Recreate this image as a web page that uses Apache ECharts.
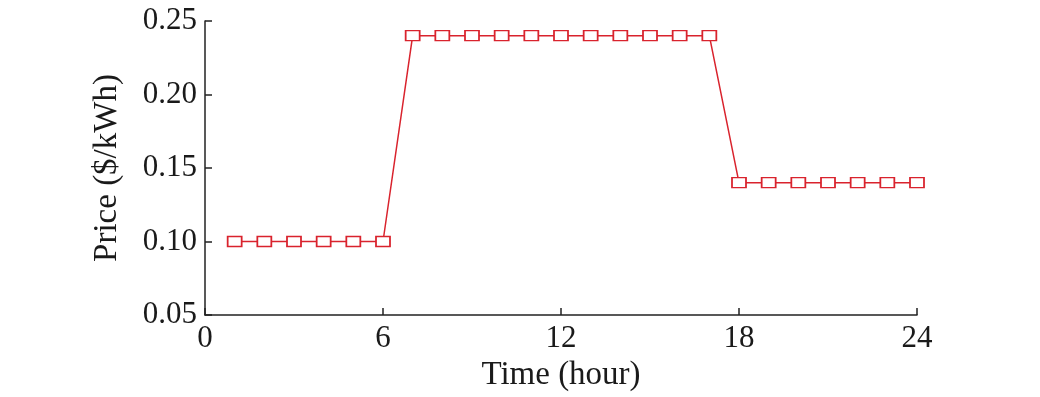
<!DOCTYPE html>
<html><head><meta charset="utf-8">
<script src="https://cdn.jsdelivr.net/npm/echarts@6/dist/echarts.min.js"></script>
<style>html,body{margin:0;padding:0;background:#fff}#c{width:1040px;height:397px}</style>
</head><body><div id="c"></div>
<script>
const hours = [1,2,3,4,5,6,7,8,9,10,11,12,13,14,15,16,17,18,19,20,21,22,23,24];
const price = [0.10,0.10,0.10,0.10,0.10,0.10,0.24,0.24,0.24,0.24,0.24,0.24,0.24,0.24,0.24,0.24,0.24,0.14,0.14,0.14,0.14,0.14,0.14,0.14];
const xTicks = [0,6,12,18,24];
const yTicks = [0.05,0.10,0.15,0.20,0.25];

const chart = echarts.init(document.getElementById('c'), null, {renderer:'canvas'});
const font = 'Liberation Serif';
const axisLine = {show:true, lineStyle:{color:'#222', width:1.5}};
chart.setOption({
  animation:false,
  grid:{left:205, right:123, top:21, bottom:82, containLabel:false},
  xAxis:{type:'value', min:0, max:24, interval:6,
    name:'Time (hour)', nameLocation:'middle', nameGap:42,
    nameTextStyle:{fontFamily:font, fontSize:33, color:'#1a1a1a'},
    axisLine:axisLine, axisTick:{show:true, inside:true, length:7, lineStyle:{color:'#222', width:1.5}},
    axisLabel:{fontFamily:font, fontSize:31, color:'#1a1a1a', margin:8,
      formatter:v=>xTicks.includes(v)?String(v):''},
    splitLine:{show:false}},
  yAxis:{type:'value', min:0.05, max:0.25, interval:0.05,
    name:'Price ($/kWh)', nameLocation:'middle', nameGap:81, nameRotate:90,
    nameTextStyle:{fontFamily:font, fontSize:33, color:'#1a1a1a'},
    axisLine:axisLine, axisTick:{show:true, inside:true, length:7, lineStyle:{color:'#222', width:1.5}},
    axisLabel:{fontFamily:font, fontSize:31, color:'#1a1a1a', margin:8,
      formatter:v=>{const t=yTicks.find(y=>Math.abs(y-v)<1e-9);return t!==undefined?t.toFixed(2):'';}},
    splitLine:{show:false}},
  series:[{type:'line', data:hours.map((h,i)=>[h,price[i]]),
    symbol:'rect', symbolSize:[14,10], showAllSymbol:true,
    lineStyle:{color:'#d9232d', width:1.5},
    itemStyle:{color:'#fff', borderColor:'#d9232d', borderWidth:1.5}}]
});
</script></body></html>
